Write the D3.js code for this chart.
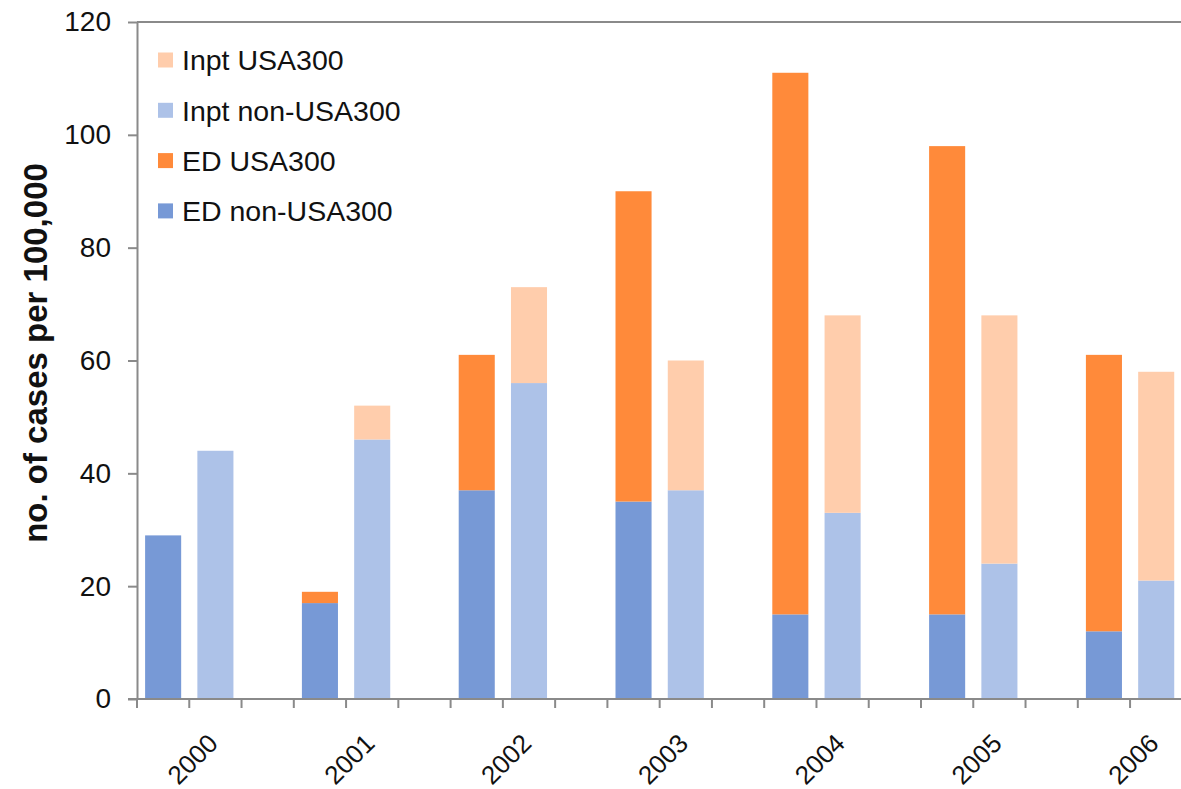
<!DOCTYPE html>
<html>
<head>
<meta charset="utf-8">
<script src="https://cdn.jsdelivr.net/npm/d3@7"></script>
<style>
  body { margin: 0; background: #fff; }
  svg { display: block; font-family: "Liberation Sans", Arial, sans-serif; }
</style>
</head>
<body>
<svg id="chart"></svg>
<script>
var width = 1181;
var height = 789;

// data
var years = ["2000", "2001", "2002", "2003", "2004", "2005", "2006"];
var edNonUsa300 = [29, 17, 37, 35, 15, 15, 12];
var edUsa300 = [0, 2, 24, 55, 96, 83, 49];
var inptNonUsa300 = [44, 46, 56, 37, 33, 24, 21];
var inptUsa300 = [0, 6, 17, 23, 35, 44, 37];
var yTicks = [0, 20, 40, 60, 80, 100, 120];

var legendItems = [
  { label: "Inpt USA300", color: "#ffcdac" },
  { label: "Inpt non-USA300", color: "#adc2e8" },
  { label: "ED USA300", color: "#ff8a3a" },
  { label: "ED non-USA300", color: "#7799d6" }
];

var margin = { left: 137, top: 22, bottom: 90 };
var groupStep = 156.8;

var svg = d3.select("#chart")
  .attr("width", width)
  .attr("height", height);

var y = d3.scaleLinear()
  .domain([0, 120])
  .range([height - margin.bottom, margin.top]);

// groups run past the right edge, like the original crop
var x = d3.scaleBand()
  .domain(years)
  .range([margin.left, margin.left + groupStep * years.length])
  .padding(0);

var slots = ["ED", "Inpt", "gap"];
var pad = 0.31;
var xSub = d3.scaleBand()
  .domain(slots)
  .range([0, x.bandwidth()])
  .paddingInner(pad)
  .paddingOuter(pad / 2);

var rows = years.map(function(yr, i) {
  return {
    year: yr,
    edNon: edNonUsa300[i],
    edUsa: edUsa300[i],
    inptNon: inptNonUsa300[i],
    inptUsa: inptUsa300[i]
  };
});

var bars = [
  { slot: "ED", keys: ["edNon", "edUsa"], colors: ["#7799d6", "#ff8a3a"] },
  { slot: "Inpt", keys: ["inptNon", "inptUsa"], colors: ["#adc2e8", "#ffcdac"] }
];

bars.forEach(function(b) {
  var series = d3.stack().keys(b.keys)(rows);
  series.forEach(function(s, si) {
    svg.append("g")
      .selectAll("rect")
      .data(s)
      .enter()
      .append("rect")
      .attr("x", function(d) { return x(d.data.year) + xSub(b.slot); })
      .attr("width", xSub.bandwidth())
      .attr("y", function(d) { return y(d[1]); })
      .attr("height", function(d) { return y(d[0]) - y(d[1]); })
      .attr("fill", b.colors[si]);
  });
});

var axisColor = "#8a8a8a";

// y axis
var yAxis = svg.append("g")
  .attr("transform", "translate(" + margin.left + ",0)")
  .call(d3.axisLeft(y).tickValues(yTicks).tickSize(9).tickSizeOuter(0).tickPadding(17));
yAxis.select(".domain").attr("stroke", axisColor).attr("stroke-width", 2);
yAxis.selectAll(".tick line").attr("stroke", axisColor).attr("stroke-width", 2);
yAxis.selectAll(".tick text")
  .attr("font-size", 28)
  .attr("fill", "#111")
  .attr("font-family", "Liberation Sans, Arial, sans-serif");

// top border
svg.append("line")
  .attr("x1", margin.left).attr("x2", width)
  .attr("y1", y(120)).attr("y2", y(120))
  .attr("stroke", axisColor).attr("stroke-width", 2);

// x axis line and slot ticks
svg.append("line")
  .attr("x1", margin.left - 9).attr("x2", width)
  .attr("y1", y(0)).attr("y2", y(0))
  .attr("stroke", axisColor).attr("stroke-width", 2);

var slotEdges = [];
years.forEach(function(yr) {
  slots.forEach(function(s, k) {
    slotEdges.push(x(yr) + k * xSub.step());
  });
});
svg.append("g")
  .selectAll("line")
  .data(slotEdges)
  .enter()
  .append("line")
  .attr("x1", function(d) { return d; })
  .attr("x2", function(d) { return d; })
  .attr("y1", y(0))
  .attr("y2", y(0) + 9)
  .attr("stroke", axisColor)
  .attr("stroke-width", 2);

// year labels
svg.append("g")
  .selectAll("text")
  .data(years)
  .enter()
  .append("text")
  .attr("transform", function(d) {
    return "translate(" + (x(d) + x.bandwidth() / 2 + 4) + "," + (y(0) + 46) + ") rotate(-45)";
  })
  .attr("text-anchor", "end")
  .attr("font-size", 26)
  .attr("fill", "#111")
  .text(function(d) { return d; });

// y title
svg.append("text")
  .attr("transform", "translate(47,353) rotate(-90)")
  .attr("text-anchor", "middle")
  .attr("font-size", 33)
  .attr("font-weight", "bold")
  .attr("fill", "#111")
  .text("no. of cases per 100,000");

// legend
var legend = svg.append("g")
  .selectAll("g")
  .data(legendItems)
  .enter()
  .append("g")
  .attr("transform", function(d, i) { return "translate(158," + (60 + i * 50.3) + ")"; });

legend.append("rect")
  .attr("x", 0).attr("y", -7.5)
  .attr("width", 15).attr("height", 15)
  .attr("fill", function(d) { return d.color; });

legend.append("text")
  .attr("x", 24)
  .attr("dy", "0.36em")
  .attr("font-size", 28.5)
  .attr("fill", "#111")
  .text(function(d) { return d.label; });
</script>
</body>
</html>
